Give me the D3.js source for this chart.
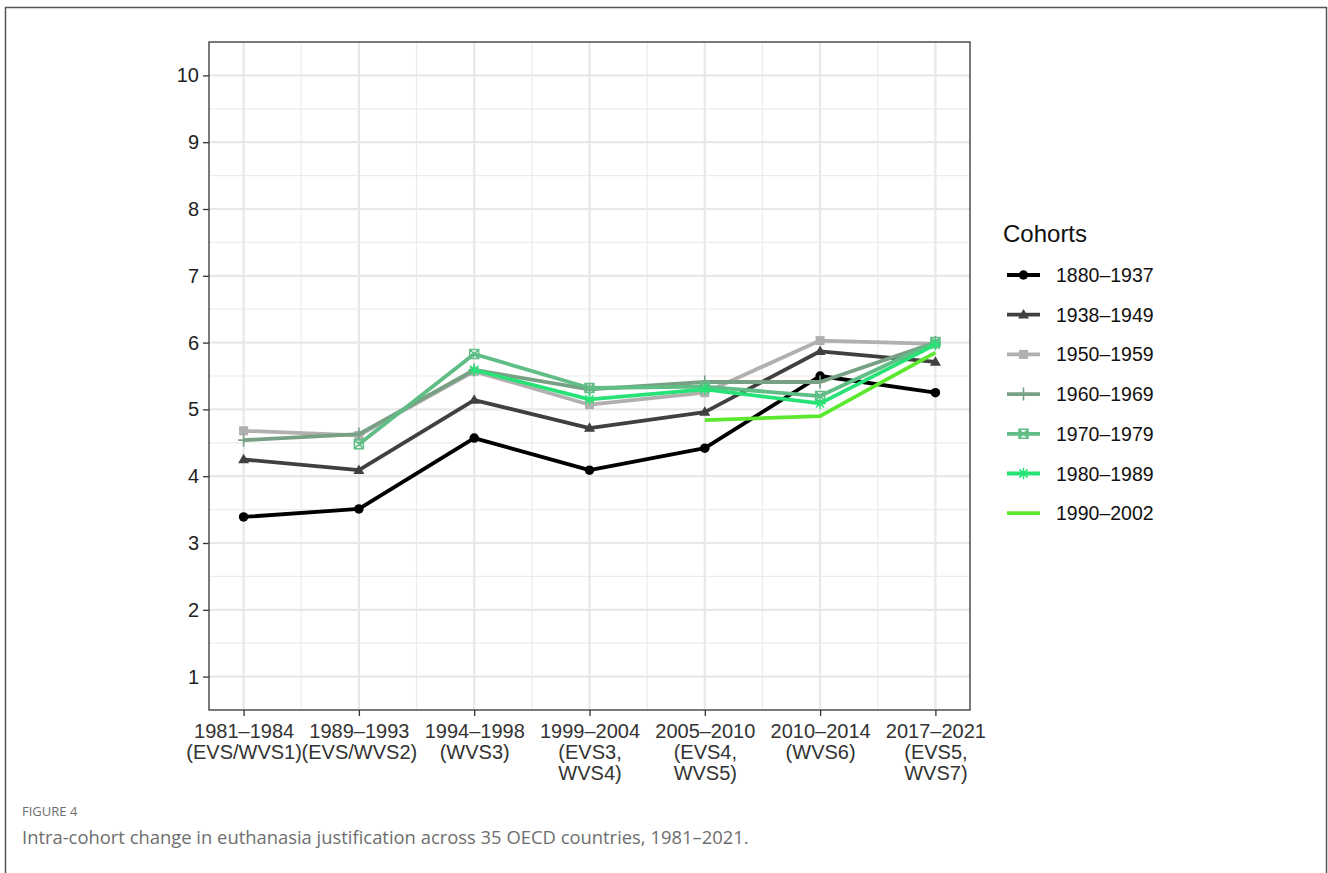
<!DOCTYPE html>
<html>
<head>
<meta charset="utf-8">
<script src="https://cdn.jsdelivr.net/npm/d3@7"></script>
<style>
  html, body { margin: 0; padding: 0; background: #fff; }
  svg { display: block; }
</style>
</head>
<body>
<svg id="chart" width="1328" height="873"></svg>
<script>
// Survey waves (x categories), two or three lines per label
const waves = [
  ["1981–1984", "(EVS/WVS1)"],
  ["1989–1993", "(EVS/WVS2)"],
  ["1994–1998", "(WVS3)"],
  ["1999–2004", "(EVS3,", "WVS4)"],
  ["2005–2010", "(EVS4,", "WVS5)"],
  ["2010–2014", "(WVS6)"],
  ["2017–2021", "(EVS5,", "WVS7)"]
];

const cohortNames = ["1880–1937", "1938–1949", "1950–1959", "1960–1969", "1970–1979", "1980–1989", "1990–2002"];

// Mean euthanasia justification (1–10) per wave; null where a cohort was not surveyed
const c1880 = [3.39, 3.51, 4.57, 4.09, 4.42, 5.50, 5.25];
const c1938 = [4.25, 4.09, 5.14, 4.72, 4.96, 5.87, 5.71];
const c1950 = [4.68, 4.61, 5.57, 5.07, 5.25, 6.03, 5.98];
const c1960 = [4.54, 4.63, 5.59, 5.30, 5.41, 5.41, 6.00];
const c1970 = [null, 4.48, 5.83, 5.32, 5.34, 5.20, 6.01];
const c1980 = [null, null, 5.59, 5.15, 5.30, 5.09, 5.97];
const c1990 = [null, null, null, null, 4.84, 4.90, 5.85];

const yTicks = [1, 2, 3, 4, 5, 6, 7, 8, 9, 10];

const seriesValues = [c1880, c1938, c1950, c1960, c1970, c1980, c1990];
const colors = ["#000000", "#404040", "#b2afaf", "#77a085", "#5fbd85", "#27e276", "#5ce82f"];
const shapes = ["circle", "triangle", "square", "plus", "squarecross", "asterisk", "none"];

const FONT = "'Liberation Sans', Arial, sans-serif";
const svg = d3.select("#chart");

// Outer figure frame
svg.append("rect")
  .attr("x", 5.5).attr("y", 7.5).attr("width", 1321).attr("height", 880)
  .attr("fill", "none").attr("stroke", "#555").attr("stroke-width", 1.5);

const panel = { left: 209, top: 42, right: 970, bottom: 710 };

const x = d3.scaleLinear().domain([0.7, 7.3]).range([panel.left, panel.right]);
const y = d3.scaleLinear().domain([0.5, 10.5]).range([panel.bottom, panel.top]);

const g = svg.append("g");

// Grid lines: minor at half steps, major at ticks
const xMinor = d3.range(1.5, 7, 1);
const yMinor = d3.range(1.5, 10, 1);
g.selectAll(".xminor").data(xMinor).join("line")
  .attr("x1", d => x(d)).attr("x2", d => x(d))
  .attr("y1", panel.top).attr("y2", panel.bottom)
  .attr("stroke", "#ececec").attr("stroke-width", 1.2);
g.selectAll(".yminor").data(yMinor).join("line")
  .attr("y1", d => y(d)).attr("y2", d => y(d))
  .attr("x1", panel.left).attr("x2", panel.right)
  .attr("stroke", "#ececec").attr("stroke-width", 1.2);
g.selectAll(".xmajor").data(d3.range(1, 8)).join("line")
  .attr("x1", d => x(d)).attr("x2", d => x(d))
  .attr("y1", panel.top).attr("y2", panel.bottom)
  .attr("stroke", "#e8e8e8").attr("stroke-width", 2.2);
g.selectAll(".ymajor").data(yTicks).join("line")
  .attr("y1", d => y(d)).attr("y2", d => y(d))
  .attr("x1", panel.left).attr("x2", panel.right)
  .attr("stroke", "#e8e8e8").attr("stroke-width", 2.2);

// Marker drawing
function drawMarker(sel, shape, color, s) {
  const r = s / 2;
  if (shape === "circle") {
    sel.append("circle").attr("r", r * 0.95).attr("fill", color);
  } else if (shape === "triangle") {
    sel.append("path").attr("d", `M0,${-r * 1.15}L${r * 1.1},${r * 0.75}L${-r * 1.1},${r * 0.75}Z`).attr("fill", color);
  } else if (shape === "square") {
    sel.append("rect").attr("x", -r * 0.9).attr("y", -r * 0.9).attr("width", r * 1.8).attr("height", r * 1.8).attr("fill", color);
  } else if (shape === "plus") {
    sel.append("path").attr("d", `M${-r * 1.1},0H${r * 1.1}M0,${-r * 1.3}V${r * 1.3}`)
      .attr("stroke", color).attr("stroke-width", 1.6).attr("fill", "none");
  } else if (shape === "squarecross") {
    const h = r * 0.9;
    sel.append("path").attr("d", `M${-h},${-h}H${h}V${h}H${-h}ZM${-h},${-h}L${h},${h}M${h},${-h}L${-h},${h}`)
      .attr("stroke", color).attr("stroke-width", 1.5).attr("fill", "none");
  } else if (shape === "asterisk") {
    const a = r * 1.15, b = a * 0.72;
    sel.append("path").attr("d", `M${-a},0H${a}M${-b},${-b}L${b},${b}M${b},${-b}L${-b},${b}M0,${-a}V${a}`)
      .attr("stroke", color).attr("stroke-width", 1.5).attr("fill", "none");
  }
}

const line = d3.line()
  .defined(d => d.v !== null)
  .x(d => x(d.i + 1))
  .y(d => y(d.v));

seriesValues.forEach((vals, k) => {
  const pts = vals.map((v, i) => ({ i, v }));
  g.append("path").datum(pts)
    .attr("d", line)
    .attr("fill", "none")
    .attr("stroke", colors[k])
    .attr("stroke-width", 3.8)
    .attr("stroke-linejoin", "round");
  pts.filter(d => d.v !== null).forEach(d => {
    const m = g.append("g").attr("transform", `translate(${x(d.i + 1)},${y(d.v)})`);
    drawMarker(m, shapes[k], colors[k], 10);
  });
});

// Panel border
svg.append("rect")
  .attr("x", panel.left).attr("y", panel.top)
  .attr("width", panel.right - panel.left).attr("height", panel.bottom - panel.top)
  .attr("fill", "none").attr("stroke", "#333").attr("stroke-width", 1.3);

// Y axis
const yAxis = d3.axisLeft(y).tickValues(yTicks).tickSize(6).tickPadding(4).tickFormat(d3.format("d"));
const ya = svg.append("g").attr("transform", `translate(${panel.left},0)`).call(yAxis);
ya.select(".domain").remove();
ya.selectAll(".tick line").attr("stroke", "#333").attr("stroke-width", 1.3);
ya.selectAll(".tick text").attr("fill", "#222")
  .style("font-family", FONT).style("font-size", "20px");

// X axis
const xAxis = d3.axisBottom(x).tickValues(d3.range(1, 8)).tickSize(6).tickFormat("");
const xa = svg.append("g").attr("transform", `translate(0,${panel.bottom})`).call(xAxis);
xa.select(".domain").remove();
xa.selectAll(".tick line").attr("stroke", "#333").attr("stroke-width", 1.3);
xa.selectAll(".tick").each(function (d) {
  const lines = waves[d - 1];
  const t = d3.select(this).append("text")
    .attr("fill", "#333")
    .attr("text-anchor", "middle")
    .style("font-family", FONT)
    .style("font-size", "20px");
  lines.forEach((s, j) => {
    t.append("tspan").attr("x", 0).attr("y", 28 + j * 21).text(s);
  });
});

// Legend
const legend = svg.append("g");
legend.append("text")
  .attr("x", 1003).attr("y", 242)
  .style("font-family", FONT)
  .style("font-size", "24px").attr("fill", "#111")
  .text("Cohorts");
cohortNames.forEach((name, k) => {
  const cy = 275 + k * 39.7;
  const item = legend.append("g").attr("transform", `translate(0,${cy})`);
  item.append("line").attr("x1", 1007).attr("x2", 1040).attr("y1", 0).attr("y2", 0)
    .attr("stroke", colors[k]).attr("stroke-width", 3.8);
  const m = item.append("g").attr("transform", "translate(1023.5,0)");
  drawMarker(m, shapes[k], colors[k], 10);
  item.append("text").attr("x", 1056).attr("y", 7)
    .style("font-family", FONT)
    .style("font-size", "19.5px").attr("fill", "#111")
    .text(name);
});

// Caption
svg.append("text").attr("x", 22).attr("y", 816)
  .style("font-family", "'Open Sans', 'Noto Sans', sans-serif")
  .style("font-size", "13px").attr("fill", "#6e6e6e")
  .text("FIGURE 4");
svg.append("text").attr("x", 22).attr("y", 844)
  .style("font-family", "'Open Sans', 'Noto Sans', sans-serif")
  .style("font-size", "18.4px").attr("fill", "#6e6e6e")
  .text("Intra-cohort change in euthanasia justification across 35 OECD countries, 1981–2021.");
</script>
</body>
</html>
